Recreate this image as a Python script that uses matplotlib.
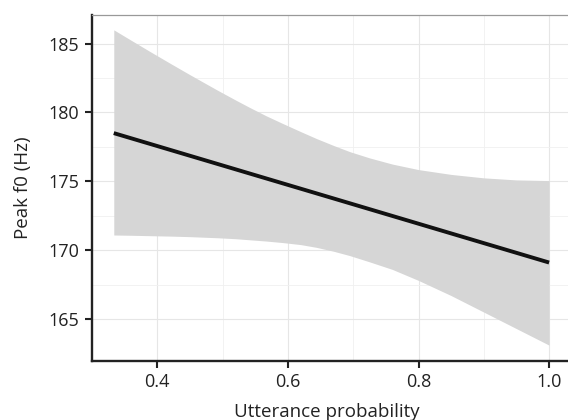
import numpy as np
import matplotlib
matplotlib.use("Agg")
import matplotlib.pyplot as plt

# fitted line (endpoints)
fit_x = [1/3, 1.0]
fit_y = [178.5, 169.1]

# confidence band
band_x = [1/3, 0.36, 0.389, 0.42, 0.45, 0.492, 0.52, 0.542, 0.567, 0.592, 0.62,
          0.644, 0.67, 0.695, 0.725, 0.76, 0.8, 0.85, 0.9, 0.95, 1.0]
band_hi = [186.0, 185.24, 184.42, 183.56, 182.74, 181.62, 180.9, 180.35, 179.75, 179.2, 178.6,
           178.1, 177.6, 177.15, 176.7, 176.25, 175.85, 175.5, 175.25, 175.1, 175.05]
band_lo = [171.1, 171.08, 171.05, 171.02, 170.98, 170.9, 170.83, 170.75, 170.66, 170.55, 170.4,
           170.2, 169.92, 169.6, 169.15, 168.6, 167.8, 166.7, 165.5, 164.3, 163.1]

xticks = [0.4, 0.6, 0.8, 1.0]
yticks = [165, 170, 175, 180, 185]

plt.rcParams['font.family'] = ['Open Sans', 'DejaVu Sans']

fig = plt.figure(figsize=(5.68, 4.2), dpi=100)
ax = fig.add_axes([0.162, 0.1405, 0.843, 0.8245])

ax.fill_between(band_x, band_lo, band_hi, color='#d6d6d6', lw=0, zorder=2)
ax.plot(fit_x, fit_y, color='#111111', lw=2.8, solid_capstyle='butt', zorder=3)

ax.set_xlim(0.3, 1.0333)
ax.set_ylim(161.95, 187.1)
ax.set_xticks(xticks)
ax.set_xticklabels(['0.4', '0.6', '0.8', '1.0'])
ax.set_yticks(yticks)
ax.set_xticks([0.3, 0.5, 0.7, 0.9], minor=True)
ax.set_yticks([167.5, 172.5, 177.5, 182.5], minor=True)

ax.grid(True, which='major', color='#e6e6e6', lw=0.8, zorder=0)
ax.grid(True, which='minor', color='#f0f0f0', lw=0.6, zorder=0)
ax.set_axisbelow(True)

for s in ['left', 'bottom']:
    ax.spines[s].set_color('#222222')
    ax.spines[s].set_linewidth(1.7)
ax.spines['top'].set_color('#999999')
ax.spines['top'].set_linewidth(0.9)
ax.spines['right'].set_visible(False)

ax.tick_params(which='major', length=5, width=1.5, color='#222222',
               labelsize=13, labelcolor='#222222', pad=4)
ax.tick_params(which='minor', length=0)

ax.set_xlabel('Utterance probability', fontsize=13.5, color='#222222', va='top')
ax.set_ylabel('Peak f0 (Hz)', fontsize=13.5, color='#222222')
ax.xaxis.set_label_coords(0.49, -0.122)
ax.yaxis.set_label_coords(-0.125, 0.5)

fig.savefig('out.png', dpi=100)
